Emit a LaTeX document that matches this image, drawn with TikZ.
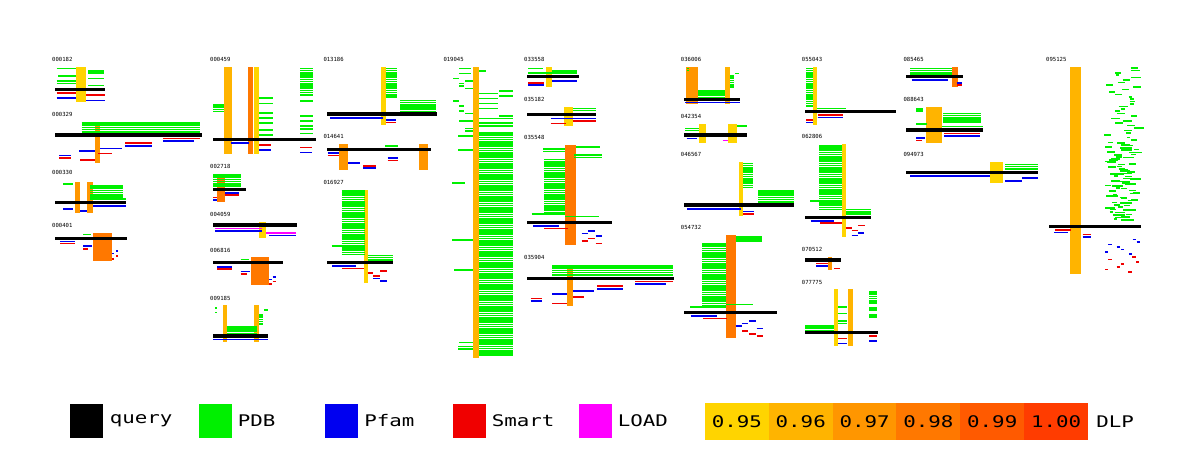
\documentclass[tikz,border=0pt]{standalone}
\usepackage{fontspec}
\usepackage{tikz}
\usetikzlibrary{positioning}
\newfontfamily\legmono[FakeStretch=1.3]{DejaVu Sans Mono}
\newfontfamily\labmono{DejaVu Sans Mono}
\newcommand\labfont{\labmono\fontsize{5.6}{6}\selectfont}
\newcommand\legendfont{\legmono\fontsize{16}{18}\selectfont}
\definecolor{PDBgreen}{HTML}{00F000}
\definecolor{PfamBlue}{HTML}{0000F0}
\definecolor{SmartRed}{HTML}{F00000}
\definecolor{LoadMag}{HTML}{FF00FF}
\definecolor{DLPa}{HTML}{FFD400}
\definecolor{DLPb}{HTML}{FFB400}
\definecolor{DLPc}{HTML}{FF9600}
\definecolor{DLPd}{HTML}{FF7800}
\definecolor{DLPe}{HTML}{FF5A00}
\definecolor{DLPf}{HTML}{FF3C00}
% hit segments, hit blocks, query bars, DLP bars
\newcommand\dseg[4]{\foreach \yy in {#4}{\draw[#1] (#2,\yy) -- (#3,\yy);}}
\newcommand\dblk[5]{\foreach \i in {0,...,#5}{\draw[#1] (#2,#4+\i*2.2) -- (#3,#4+\i*2.2);}}
\newcommand\qbar[3]{\fill[query] (#1,#3-1.7) rectangle (#2,#3+1.7);}
\newcommand\dbar[5]{\fill[#1] (#2,#4) rectangle (#3,#5);}

\begin{document}
\begin{tikzpicture}[x=1pt,y=-1pt,
  pdb/.style={draw=PDBgreen,line width=1.6pt},
  pfam/.style={draw=PfamBlue,line width=1.6pt},
  smart/.style={draw=SmartRed,line width=1.6pt},
  load/.style={draw=LoadMag,line width=1.6pt},
  query/.style={fill=black},
  d95/.style={fill=DLPa},d96/.style={fill=DLPb},d97/.style={fill=DLPc},
  d98/.style={fill=DLPd},d99/.style={fill=DLPe},d100/.style={fill=DLPf},
  lab/.style={anchor=west,inner sep=0pt,font=\labfont,text=black},
  legbox/.style={minimum width=33pt,minimum height=34pt,inner sep=0pt},
  legtxt/.style={inner sep=0pt,font=\legendfont},
  dlpcell/.style={minimum width=63.9pt,minimum height=37pt,inner sep=0pt,font=\legendfont}]
\fill[white] (0,0) rectangle (1200,469);
\useasboundingbox (0,0) rectangle (1200,469);

% column 1
\node[lab] (p000182) at (52,59) {000182};
\dbar{d95}{75.7}{85.7}{66.7}{102.3}
\dseg{pdb}{56.7}{75.7}{68.3,81,83.3} \dseg{pdb}{58}{75.7}{75.7}
\dseg{pdb}{88.3}{104.3}{70.7,72.7,78.3,85.3}
\qbar{55}{105}{89.3}
\dseg{smart}{56.7}{75.7}{92.9} \dseg{smart}{86}{105}{95}
\dseg{pfam}{56.7}{75.7}{97.7} \dseg{pfam}{86}{105}{100.3}

\node[lab] (p000329) at (52,114) {000329};
\dbar{d97}{95}{100}{122.7}{162.7}
\dblk{pdb}{81.7}{200}{123}{4}
\qbar{55}{202}{135}
\dseg{smart}{163}{200}{138.5} \dseg{pfam}{163}{194}{140.9}
\dseg{smart}{125}{151.7}{143} \dseg{pfam}{125}{151.7}{145.7}
\dseg{pfam}{100}{122}{148.3} \dseg{pfam}{79}{95}{150.7}
\dseg{smart}{98}{112}{153.3} \dseg{pfam}{59}{70.7}{155.5}
\dseg{smart}{59}{70.7}{157.7} \dseg{smart}{80}{95}{160}

\node[lab] (p000330) at (52,172) {000330};
\dbar{d97}{75}{80}{182.3}{213.3} \dbar{d97}{86.7}{93.3}{182.3}{213.3}
\dseg{pdb}{63.3}{73.3}{184}
\dblk{pdb}{90}{123.3}{186}{5} \dseg{pdb}{90}{125.7}{199}
\qbar{55}{126}{202.7}
\dseg{pfam}{93.3}{126}{206} \dseg{pfam}{63.3}{73.3}{208.7} \dseg{pfam}{80}{86.7}{210.9}

\node[lab] (p000401) at (52,225) {000401};
\dbar{d98}{92.7}{111.7}{232.7}{260.7}
\dseg{pdb}{83.3}{90.7}{234.3}
\qbar{55}{126.7}{238.3}
\dseg{pfam}{60}{75}{241.3} \dseg{smart}{60}{75}{243.5}
\dseg{pfam}{83.3}{91.7}{246} \dseg{smart}{83.3}{88.3}{248.7}
\dseg{pfam}{111.7}{114}{253.3} \dseg{pfam}{116}{118.3}{251}
\dseg{smart}{116}{118.3}{256} \dseg{smart}{111.7}{114}{258.7}

% column 2
\node[lab] (p000459) at (210,59) {000459};
\dbar{d96}{224}{231.7}{66.7}{154.3} \dbar{d98}{247.7}{252.7}{66.7}{154.3}
\dbar{d95}{254}{259}{66.7}{154.3}
\dblk{pdb}{213.3}{224}{105}{3}
\dseg{pdb}{259}{273.3}{97.7,103.3,112.7,117.7,122.7,130,135}
\dblk{pdb}{300}{313.3}{68.3}{12}
\dseg{pdb}{300}{313.3}{100.7,115.7,120.7,126,129,133.3}
\qbar{213.3}{315.7}{139.3}
\dseg{pfam}{230.7}{249}{142.9} \dseg{smart}{259}{270.7}{145}
\dseg{pfam}{259}{270.7}{150} \dseg{smart}{300}{311.7}{147.3}
\dseg{pfam}{300}{311.7}{152.3}

\node[lab] (p002718) at (210,166.7) {002718};
\dbar{d98}{217.3}{225}{174.3}{202.3}
\dblk{pdb}{213.3}{240.7}{175}{5}
\qbar{213.3}{245.7}{189.3}
\dseg{pfam}{225}{239}{192.7} \dseg{smart}{225}{239}{195.2}
\dseg{smart}{213.3}{217.3}{197.5} \dseg{pfam}{213.3}{217.3}{200}

\node[lab] (p004059) at (210,214.3) {004059};
\dbar{d95}{259.3}{265.7}{221.7}{238.3}
\qbar{213.3}{296.7}{225}
\dseg{load}{215}{261.7}{228.3} \dseg{pfam}{215}{261.7}{230.7}
\dseg{load}{266}{296}{232.7} \dseg{pfam}{269.3}{296}{235.3}

\node[lab] (p006816) at (210,250) {006816};
\dbar{d98}{250.7}{269}{257.3}{285.3}
\dseg{pdb}{240.7}{249}{259.3}
\qbar{213.3}{283.3}{262.7}
\dseg{pfam}{217.3}{232.3}{266.7} \dseg{smart}{217.3}{232.3}{269}
\dseg{pfam}{240.7}{250}{271.3} \dseg{smart}{240.7}{246.7}{273.7}
\dseg{pfam}{272.7}{275.7}{276.7} \dseg{pfam}{269}{271.7}{279.3}
\dseg{smart}{272.7}{275.7}{281.3} \dseg{smart}{269}{271.7}{284}

\node[lab] (p009185) at (210,298.3) {009185};
\dbar{d96}{222.7}{226.7}{305}{341.7} \dbar{d96}{254}{259}{305}{341.7}
\dseg{pdb}{215}{217.3}{307.7,312.3} \dseg{pdb}{264}{268.3}{309.7}
\dblk{pdb}{259}{263.3}{315}{4} \dblk{pdb}{226.7}{257.3}{326.7}{3}
\qbar{213.3}{268.3}{336}
\dseg{pfam}{213.3}{268.3}{339.4}

% column 3
\node[lab] (p013186) at (323.3,59) {013186};
\dbar{d95}{381}{385.7}{66.7}{125}
\dblk{pdb}{385.7}{396.7}{68.3}{13}
\dblk{pdb}{400}{435.7}{100.3}{5}
\qbar{326.7}{436.7}{114}
\dseg{pfam}{330}{383.3}{117.7} \dseg{pfam}{385.7}{396}{120} \dseg{smart}{385.7}{396}{122.3}

\node[lab] (p014641) at (323.3,136.7) {014641};
\dbar{d97}{339}{347.7}{144.3}{170} \dbar{d97}{419}{427.7}{144.3}{170}
\dseg{pdb}{385}{398.3}{146.2}
\qbar{326.7}{430.7}{149.3}
\dseg{pfam}{327.7}{339.3}{152.9} \dseg{smart}{327.7}{339.3}{155.3}
\dseg{pfam}{348.3}{360}{162.7} \dseg{smart}{363.3}{375.7}{165.7}
\dseg{pfam}{363.3}{375.7}{168} \dseg{pfam}{387.7}{398.3}{157.7}
\dseg{smart}{387.7}{398.3}{160.3}

\node[lab] (p016927) at (323.3,182.3) {016927};
\dbar{d95}{364}{367.7}{190}{282.7}
\dblk{pdb}{341.7}{365}{190.7}{29}
\dseg{pdb}{331.7}{341.7}{246}
\dblk{pdb}{367.7}{393.3}{255.3}{2}
\qbar{326.7}{393.3}{262.3}
\dseg{pfam}{332.3}{356}{265.8} \dseg{smart}{342.3}{364}{268.3}
\dseg{smart}{367.7}{373.3}{272.7} \dseg{smart}{380}{387.3}{270.7}
\dseg{smart}{373.3}{380}{275.7} \dseg{pfam}{373.3}{380}{278.3}
\dseg{pfam}{380}{386.7}{280.7}

% column 4
\node[lab] (p019045) at (443.3,59) {019045};
\dbar{d96}{472.7}{479.3}{66.7}{358.3}
\dseg{pdb}{459.3}{470.7}{68.3,73.3} \dseg{pdb}{453}{459}{78.3,100.7}
\dseg{pdb}{465}{472.7}{81,88.3,113.3,128.3,131}
\dseg{pdb}{459}{463.5}{83.3,85.7,105.7,110.7}
\dseg{pdb}{459}{472.7}{120.7} \dseg{pdb}{458}{472.7}{135.7,150,346.3,349}
\dseg{pdb}{452.3}{465}{182.7} \dseg{pdb}{452.3}{472.7}{240}
\dseg{pdb}{454.3}{472.7}{270} \dseg{pdb}{459.3}{472.7}{342.3}
\dseg{pdb}{479.3}{486}{70.7} \dseg{pdb}{479.3}{498.3}{93.3,98.3,103.3,108.3}
\dseg{pdb}{499.3}{512.7}{90.7,95.7,115.7}
\dseg{pdb}{479.3}{512.7}{118.3,122.7,126}
\dblk{pdb}{479.3}{512.7}{133}{101}

% column 5
\node[lab] (p033558) at (524,59) {033558};
\dbar{d95}{546}{551.7}{66.7}{87.3}
\dseg{pdb}{528.3}{543.3}{68.3} \dseg{pdb}{551.7}{576.7}{70.7} \dseg{pdb}{528.3}{576.7}{73}
\qbar{526.7}{579}{76.7}
\dseg{pfam}{551.7}{576.7}{80.7} \dseg{smart}{528.3}{544}{82.7} \dseg{pfam}{528.3}{544}{85}

\node[lab] (p035182) at (524,99.3) {035182};
\dbar{d95}{564.3}{572.7}{106.7}{125.7}
\dblk{pdb}{572.7}{596}{108.3}{1}
\qbar{526.7}{596}{114.7}
\dseg{pfam}{550.7}{596}{118.3} \dseg{smart}{572.7}{596}{120.7} \dseg{smart}{550.7}{565.7}{123.3}

\node[lab] (p035548) at (524,137.3) {035548};
\dbar{d98}{565}{575.7}{145}{245}
\dseg{pdb}{575.7}{600}{146.7} \dseg{pdb}{543.3}{565}{149,151.5}
\dseg{pdb}{574}{601.7}{155,157.3}
\dblk{pdb}{544.3}{565}{159.5}{25}
\dseg{pdb}{531.7}{565}{214} \dseg{pdb}{565}{599}{216.5}
\qbar{526.7}{612.3}{222.3}
\dseg{pfam}{533.3}{559}{225.8} \dseg{smart}{544.3}{567.7}{228.3}
\dseg{pfam}{588.3}{595}{230.7} \dseg{pfam}{581.7}{588.3}{233.3}
\dseg{pfam}{595.7}{601.7}{235.7} \dseg{smart}{588.3}{595}{238.3}
\dseg{smart}{581.7}{587.7}{241} \dseg{smart}{595.7}{601.7}{243.3}

\node[lab] (p035904) at (524,257.3) {035904};
\dbar{d97}{567.3}{572.7}{265}{306}
\dblk{pdb}{552.3}{672.7}{266}{4}
\qbar{526.7}{674}{278.3}
\dseg{smart}{635}{672.7}{281.4} \dseg{pfam}{635}{666}{283.8}
\dseg{smart}{597.3}{622.7}{286.2} \dseg{pfam}{597.3}{622.7}{288.7}
\dseg{pfam}{572.7}{594}{291.2} \dseg{pfam}{552.3}{566.7}{294}
\dseg{smart}{572.7}{584}{296.7} \dseg{smart}{530.7}{542.3}{298.3}
\dseg{pfam}{530.7}{542.3}{300.7} \dseg{smart}{552.3}{566.7}{303.3}

% column 6
\node[lab] (p036006) at (680.7,59) {036006};
\dbar{d97}{686}{698.3}{66.7}{104} \dbar{d96}{725}{730}{66.7}{104}
\dseg{pdb}{686.7}{689.3}{68.5,70.5} \dseg{pdb}{735}{739.3}{73.3}
\dblk{pdb}{730}{734}{76}{5} \dblk{pdb}{698.3}{725}{90.7}{3}
\qbar{684}{740}{99.3}
\dseg{pfam}{685}{740}{102.6}

\node[lab] (p042354) at (680.7,116.7) {042354};
\dbar{d95}{699}{706}{124}{142.7} \dbar{d95}{728.3}{737.3}{124}{142.7}
\dseg{pdb}{685}{699}{128.3,130.5} \dseg{pdb}{737.3}{746.7}{126}
\qbar{684}{746.7}{135}
\dseg{pfam}{686.7}{696.7}{138.5} \dseg{load}{722.7}{727.7}{140.3}

\node[lab] (p046567) at (680.7,154.3) {046567};
\dbar{d95}{739}{743.3}{161.7}{215.7}
\dblk{pdb}{743.3}{753.3}{163.3}{11}
\dblk{pdb}{758.3}{794}{190.7}{5}
\qbar{684}{794}{205}
\dseg{pfam}{687.3}{740.7}{208.7} \dseg{pfam}{743.3}{754}{211.3} \dseg{smart}{743.3}{754}{213.7}

\node[lab] (p054732) at (680.7,227.7) {054732};
\dbar{d98}{725.7}{735.7}{235}{338.3}
\dblk{pdb}{735.7}{762.3}{236.7}{2}
\dblk{pdb}{702.3}{725.7}{244}{28}
\dseg{pdb}{690}{725.7}{306.7} \dseg{pdb}{725.7}{753.3}{304.3}
\qbar{684}{777.3}{312.3}
\dseg{pfam}{690.7}{717.3}{315.8} \dseg{smart}{703.3}{726.7}{318.3}
\dseg{pfam}{735.7}{742.3}{326} \dseg{pfam}{742.3}{748.3}{323.3}
\dseg{pfam}{749}{755.7}{321} \dseg{pfam}{756.7}{762.7}{328.3}
\dseg{smart}{742.3}{748.3}{331} \dseg{smart}{749}{755.7}{333.7}
\dseg{smart}{756.7}{762.7}{336}

% column 7
\node[lab] (p055043) at (801.7,59) {055043};
\dbar{d95}{813.3}{816.7}{66.7}{125}
\dblk{pdb}{806}{813.3}{68.3}{17}
\dseg{pdb}{816.7}{845.7}{108.3}
\qbar{805}{895.7}{111.7}
\dseg{smart}{817.7}{843.3}{115} \dseg{pfam}{817.7}{843.3}{117.3}
\dseg{smart}{806}{813.3}{120} \dseg{pfam}{806}{813.3}{122.3}

\node[lab] (p062806) at (801.7,136.7) {062806};
\dbar{d95}{841.7}{845.7}{144}{237.3}
\dblk{pdb}{819.3}{842.3}{145.7}{29}
\dseg{pdb}{810}{819.3}{201}
\dblk{pdb}{845.7}{871}{209.5}{2}
\qbar{805}{871}{217.3}
\dseg{pfam}{810.7}{834}{220.7} \dseg{smart}{820}{842.3}{223}
\dseg{smart}{845.7}{851.7}{227.7} \dseg{smart}{858.3}{865}{225.3}
\dseg{smart}{851.7}{857.7}{230.3} \dseg{pfam}{858.3}{864.3}{233}
\dseg{pfam}{851.7}{857.7}{235.3}

\node[lab] (p070512) at (801.7,249.3) {070512};
\dbar{d97}{828.3}{832.3}{256.7}{270}
\qbar{805}{840.7}{260}
\dseg{smart}{816}{827.7}{263.4} \dseg{pfam}{816}{827.7}{265.7} \dseg{smart}{834}{840}{268.3}

\node[lab] (p077775) at (801.7,282.3) {077775};
\dbar{d95}{834}{837.7}{289.3}{345.7} \dbar{d96}{847.7}{853.3}{289.3}{345.7}
\dseg{pdb}{869}{876.7}{292,294.2,296.4,298.6,300.8,303,308,310.2,315,317.2}
\dseg{pdb}{838.3}{846.7}{306.7,313.3,320.7,323.3}
\dblk{pdb}{805}{834}{326}{2}
\qbar{805}{878.3}{332.7}
\dseg{smart}{838.3}{846.7}{338.3} \dseg{pfam}{838.3}{846.7}{343.3}
\dseg{smart}{869}{876.7}{336.2} \dseg{pfam}{869}{876.7}{341}

% column 8
\node[lab] (p085465) at (903.3,59) {085465};
\dbar{d98}{951.7}{957.7}{66.7}{87.3}
\dblk{pdb}{910}{951.7}{68.3}{3}
\qbar{906}{962.7}{76.7}
\dseg{pfam}{911.7}{948.3}{80} \dseg{pfam}{956.7}{962.3}{83} \dseg{smart}{956.7}{962.3}{85}

\node[lab] (p088643) at (903.3,99.3) {088643};
\dbar{d96}{925.7}{941.7}{106.7}{142.7}
\dseg{pdb}{916}{922.7}{109,111.2} \dblk{pdb}{943.3}{980.7}{113.3}{4}
\dseg{pdb}{916}{927.3}{124} \dseg{pdb}{941.7}{983.3}{126.5}
\qbar{906}{983.3}{130}
\dseg{smart}{944}{980}{133.4} \dseg{pfam}{944}{980}{135.7}
\dseg{pfam}{916}{925}{138} \dseg{smart}{916}{922.3}{140.3}

\node[lab] (p094973) at (903.3,154.3) {094973};
\dbar{d95}{990}{1002.7}{162.3}{182.7}
\dblk{pdb}{1005}{1037.7}{164.3}{2}
\qbar{906}{1038.3}{172.7}
\dseg{pfam}{910}{990}{176.1} \dseg{pfam}{1022.3}{1038.3}{178} \dseg{pfam}{1005}{1021.7}{180.7}

% column 9
\node[lab] (p095125) at (1046,59) {095125};
\dbar{d96}{1070}{1080.7}{66.7}{274}
\pgfmathsetseed{4217}
\foreach \i in {0,...,63}{
  \pgfmathsetmacro\gx{1104+rnd*30}\pgfmathsetmacro\gl{3+rnd*7}
  \draw[pdb] (\gx,68+\i*2.4) -- (\gx+\gl,68+\i*2.4);}
\foreach \i in {0,...,32}{
  \pgfmathsetmacro\gx{1104+rnd*28}\pgfmathsetmacro\gl{6+rnd*8}
  \draw[pdb] (\gx,143+\i*2.4) -- (\gx+\gl,143+\i*2.4);}
\qbar{1049.3}{1140.7}{226.3}
\dseg{smart}{1055}{1070.7}{229.9} \dseg{pfam}{1054.3}{1068.3}{232.3}
\dseg{smart}{1082.7}{1091.3}{234.3} \dseg{pfam}{1082.7}{1091.3}{236.7}
\foreach \a/\y in {1108.3/244.3,1116.7/246.7,1121/249.3,1105/251.7,1129/254,1132.7/239.3,1136.7/241.7}
  \draw[pfam] (\a,\y) -- (\a+3.2,\y);
\foreach \a/\y in {1132.3/256.7,1108.3/259.3,1136/261.7,1120.7/264,1116.7/266.7,1105/269.3,1128.3/271.7}
  \draw[smart] (\a,\y) -- (\a+3.2,\y);

% legend
\node[legbox,fill=black] (kq) at (86,421) {};
\node[legtxt,right=7pt of kq] (tq) {query};
\node[legbox,fill=PDBgreen] (kp) at (215,421) {};
\node[legtxt,right=6pt of kp] (tp) {PDB};
\node[legbox,fill=PfamBlue] (kf) at (341.5,421) {};
\node[legtxt,right=6pt of kf] (tf) {Pfam};
\node[legbox,fill=SmartRed] (ks) at (469,421) {};
\node[legtxt,right=6pt of ks] (ts) {Smart};
\node[legbox,fill=LoadMag] (kl) at (595,421) {};
\node[legtxt,right=6pt of kl] (tl) {LOAD};
\foreach \c/\t [count=\k] in {DLPa/0.95,DLPb/0.96,DLPc/0.97,DLPd/0.98,DLPe/0.99,DLPf/1.00}
  \node[dlpcell,fill=\c] (c\k) at (705+63.83*\k-31.92,421.5) {\t};
\node[legtxt,right=8pt of c6] (tdlp) {DLP};
\end{tikzpicture}
\end{document}
